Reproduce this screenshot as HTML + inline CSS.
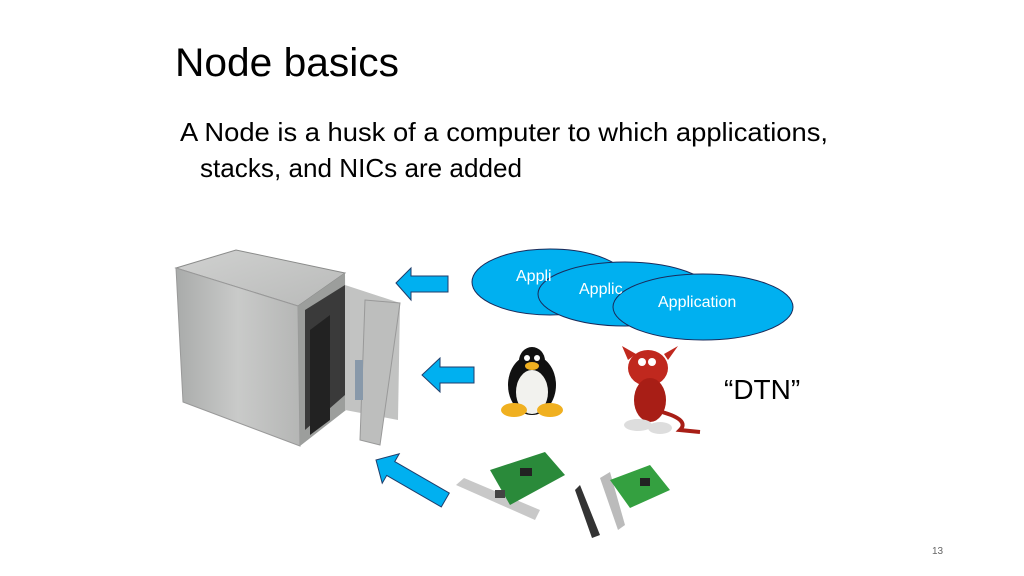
<!DOCTYPE html>
<html><head><meta charset="utf-8"><style>
html,body{margin:0;padding:0;background:#fff;}
svg{display:block;}
text{font-family:"Liberation Sans",sans-serif;}
</style></head><body>
<svg width="1024" height="576" viewBox="0 0 1024 576" xmlns="http://www.w3.org/2000/svg">
<text x="175" y="76" font-size="40" fill="#000" textLength="224" lengthAdjust="spacingAndGlyphs">Node basics</text>
<text x="180" y="141" font-size="26" fill="#000" textLength="648" lengthAdjust="spacingAndGlyphs">A Node is a husk of a computer to which applications,</text>
<text x="200" y="177" font-size="26" fill="#000" textLength="322" lengthAdjust="spacingAndGlyphs">stacks, and NICs are added</text>

<!-- computer case -->
<defs>
<linearGradient id="fr" x1="0" y1="0" x2="1" y2="0"><stop offset="0" stop-color="#a9abaa"/><stop offset="0.5" stop-color="#c9cac9"/><stop offset="1" stop-color="#b5b6b5"/></linearGradient>
<linearGradient id="tp" x1="0" y1="0" x2="1" y2="1"><stop offset="0" stop-color="#d0d1d0"/><stop offset="1" stop-color="#b9bab9"/></linearGradient>
</defs>
<polygon points="176,268 236,250 345,273 298,306" fill="url(#tp)" stroke="#8a8b8a" stroke-width="1"/>
<polygon points="176,268 298,306 300,446 183,402" fill="url(#fr)" stroke="#999" stroke-width="1"/>
<polygon points="298,306 345,273 346,410 300,446" fill="#9c9e9c"/>
<polygon points="305,310 345,285 345,395 305,430" fill="#3a3a3a"/>
<polygon points="310,330 330,315 330,420 310,435" fill="#222"/>
<polygon points="345,285 400,303 398,420 345,410" fill="#c2c3c2"/>
<polygon points="365,300 400,303 380,445 360,440" fill="#bdbebd" stroke="#999"/>
<rect x="355" y="360" width="8" height="40" fill="#8899aa"/>

<!-- arrows -->
<g fill="#00b0f0" stroke="#1f3d6b" stroke-width="1">
<polygon points="396,283 411,268 411,276 448,276 448,292 411,292 411,300"/>
<polygon points="422,375 440,358 440,367 474,367 474,383 440,383 440,392"/>
<polygon transform="translate(376,460) rotate(30)" points="0,0 17,-17 17,-8 80,-8 80,8 17,8 17,17"/>
</g>

<!-- ellipses -->
<g fill="#00b0f0" stroke="#1a2a5a" stroke-width="1">
<ellipse cx="550" cy="282" rx="78" ry="33"/>
<ellipse cx="625" cy="294" rx="87" ry="32"/>
<ellipse cx="703" cy="307" rx="90" ry="33"/>
</g>
<text x="516" y="281" font-size="16" fill="#fff">Appli</text>
<text x="579" y="294" font-size="16" fill="#fff">Applic</text>
<text x="658" y="307" font-size="16" fill="#fff">Application</text>

<!-- penguin -->
<ellipse cx="532" cy="385" rx="24" ry="30" fill="#111"/>
<ellipse cx="532" cy="361" rx="13" ry="14" fill="#111"/>
<ellipse cx="532" cy="392" rx="16" ry="22" fill="#f2f2ee"/>
<ellipse cx="532" cy="366" rx="7" ry="4" fill="#f0b020"/>
<circle cx="527" cy="358" r="3" fill="#fff"/><circle cx="537" cy="358" r="3" fill="#fff"/>
<ellipse cx="514" cy="410" rx="13" ry="7" fill="#f0b020"/>
<ellipse cx="550" cy="410" rx="13" ry="7" fill="#f0b020"/>

<!-- devil -->
<ellipse cx="648" cy="368" rx="20" ry="18" fill="#c0281e"/>
<ellipse cx="650" cy="400" rx="16" ry="22" fill="#a81e16"/>
<path d="M628 360 L622 346 L636 354Z M668 360 L678 346 L664 354Z" fill="#c0281e"/>
<path d="M662 412 Q690 420 680 430 L700 432" stroke="#a81e16" stroke-width="4" fill="none"/>
<ellipse cx="638" cy="425" rx="14" ry="6" fill="#ddd"/>
<ellipse cx="660" cy="428" rx="12" ry="6" fill="#ddd"/>
<circle cx="642" cy="362" r="4" fill="#fff"/><circle cx="652" cy="362" r="4" fill="#fff"/>

<text x="724" y="399" font-size="28" fill="#000">“DTN”</text>

<!-- NIC 1 -->
<polygon points="456,485 464,478 540,510 535,520" fill="#c8c8c8"/>
<polygon points="490,470 545,452 565,475 510,505" fill="#2a8a3a"/>
<rect x="495" y="490" width="10" height="8" fill="#444"/>
<rect x="520" y="468" width="12" height="8" fill="#222"/>
<!-- NIC 2 -->
<polygon points="575,490 580,485 600,535 592,538" fill="#333"/>
<polygon points="600,478 610,472 625,525 618,530" fill="#bbb"/>
<polygon points="610,480 650,465 670,490 630,508" fill="#34a040"/>
<rect x="640" y="478" width="10" height="8" fill="#222"/>

<text x="932" y="554" font-size="10" fill="#666">13</text>
</svg>
</body></html>
